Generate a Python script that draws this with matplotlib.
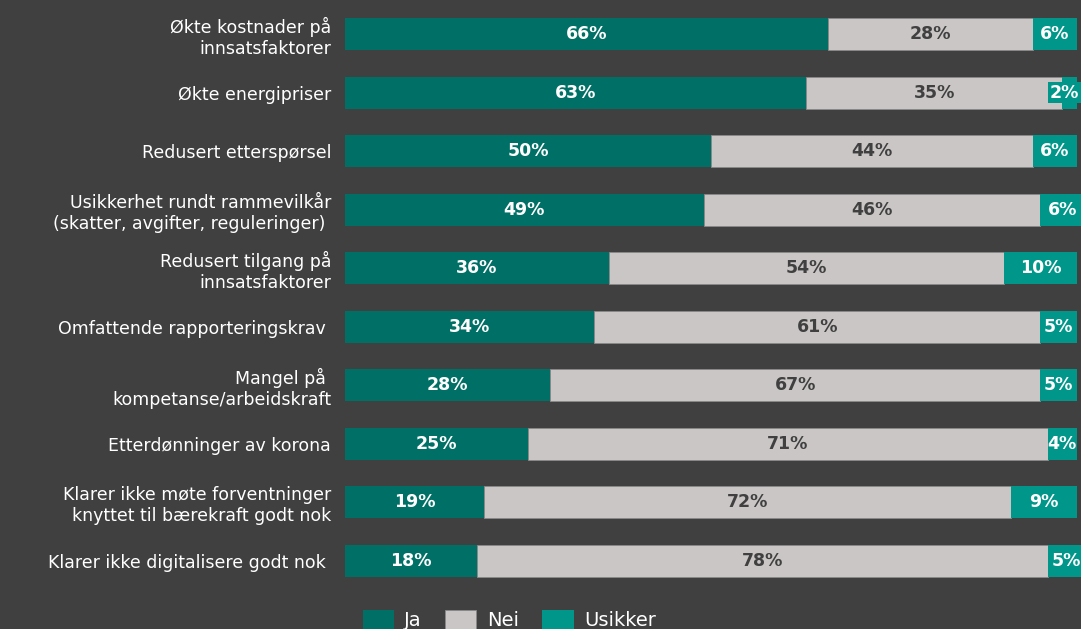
import matplotlib.pyplot as plt
import numpy as np

categories = [
    "Økte kostnader på\ninnsatsfaktorer",
    "Økte energipriser",
    "Redusert etterspørsel",
    "Usikkerhet rundt rammevilkår\n(skatter, avgifter, reguleringer) ",
    "Redusert tilgang på\ninnsatsfaktorer",
    "Omfattende rapporteringskrav ",
    "Mangel på \nkompetanse/arbeidskraft",
    "Etterdønninger av korona",
    "Klarer ikke møte forventninger\nknyttet til bærekraft godt nok",
    "Klarer ikke digitalisere godt nok ",
]
ja = [66, 63, 50, 49, 36, 34, 28, 25, 19, 18]
nei = [28, 35, 44, 46, 54, 61, 67, 71, 72, 78]
usikker = [6, 2, 6, 6, 10, 5, 5, 4, 9, 5]

bg = "#404040"
c_ja = "#007066"
c_nei = "#CBC6C6"
c_usikker = "#00968A"

fig = plt.figure(figsize=(10.81, 6.29), dpi=100, facecolor=bg)
ax = fig.add_axes([345 / 1081, 1 - 590 / 629, 732 / 1081, 585 / 629])
ax.set_facecolor(bg)

y = np.arange(len(categories))
h = 0.54
ja_a = np.array(ja)
nei_a = np.array(nei)
us_a = np.array(usikker)

ax.barh(y, ja_a, height=h, color=c_ja, label="Ja")
ax.barh(y, nei_a, left=ja_a, height=h, color=c_nei, edgecolor="#8a8a8a",
        linewidth=0.6, label="Nei")
ax.barh(y, us_a, left=ja_a + nei_a, height=h, color=c_usikker, label="Usikker")

lab_font = dict(fontsize=12.5, fontweight="bold", va="center", ha="center")
for i in range(len(categories)):
    ax.text(ja_a[i] / 2, y[i], f"{ja[i]}%", color="white", **lab_font)
    ax.text(ja_a[i] + nei_a[i] / 2, y[i], f"{nei[i]}%", color="#404040", **lab_font)
    xu = ja_a[i] + nei_a[i] + us_a[i] / 2
    if us_a[i] < 4:
        # label wider than the bar: put it at the right edge on a teal patch
        ax.text(100.3, y[i], f"{usikker[i]}%", color="white",
                fontsize=12.5, fontweight="bold", va="center", ha="right",
                bbox=dict(facecolor=c_usikker, edgecolor="none", pad=1))
    else:
        ax.text(xu, y[i], f"{usikker[i]}%", color="white", **lab_font)

ax.set_xlim(0, 100)
ax.set_ylim(len(categories) - 0.5, -0.5)
ax.set_yticks(y)
ax.set_yticklabels(categories, fontsize=12.5, color="white", multialignment="right")
ax.tick_params(axis="y", length=0, pad=10)
ax.set_xticks([])
for s in ax.spines.values():
    s.set_visible(False)
for b in ax.patches:
    b.set_clip_on(False)

leg = fig.legend(loc="lower left", bbox_to_anchor=(345 / 1081, -0.03), ncol=3,
                 frameon=False, fontsize=14, labelcolor="white",
                 handlelength=1.6, handleheight=1.2, columnspacing=1.2,
                 handletextpad=0.55)

plt.savefig("out.png", dpi=100, facecolor=bg)
